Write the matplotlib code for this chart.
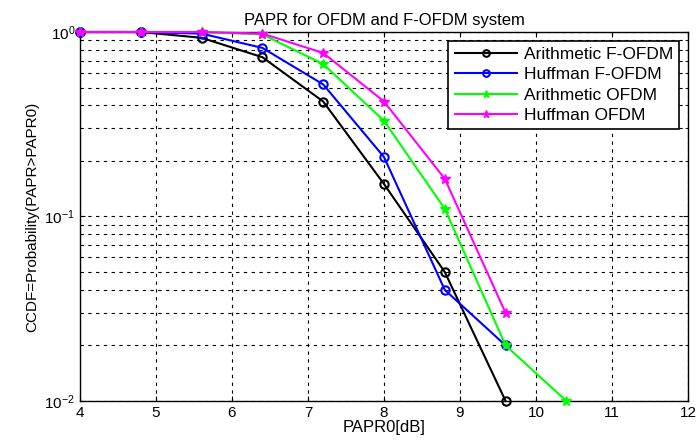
import matplotlib
matplotlib.use('Agg')
import matplotlib.pyplot as plt
import numpy as np

plt.rcParams['font.family'] = ['Liberation Sans', 'DejaVu Sans']

# PAPR0 值 (dB)
papr0 = [4, 4.8, 5.6, 6.4, 7.2, 8, 8.8, 9.6, 10.4]

# CCDF 曲线
arith_fofdm = [1, 1, 0.93, 0.73, 0.42, 0.15, 0.05, 0.01]
huff_fofdm = [1, 1, 0.98, 0.82, 0.52, 0.21, 0.04, 0.02]
arith_ofdm = [1, 1, 1, 0.97, 0.67, 0.33, 0.11, 0.02, 0.01]
huff_ofdm = [1, 1, 1, 0.98, 0.77, 0.42, 0.16, 0.03]

fig = plt.figure(figsize=(6.98, 4.44), dpi=100)
ax = fig.add_axes([80/698, 1-401/444, 608/698, 369/444])

ax.plot(papr0[:len(arith_fofdm)], arith_fofdm, color='black', marker='o',
        mfc='none', ms=6, mew=1.5, lw=1.5, label='Arithmetic F-OFDM', clip_on=False, zorder=5)
ax.plot(papr0[:len(huff_fofdm)], huff_fofdm, color='blue', marker='o',
        mfc='none', ms=6, mew=1.5, lw=1.5, label='Huffman F-OFDM', clip_on=False, zorder=5)
ax.plot(papr0[:len(arith_ofdm)], arith_ofdm, color='#00ff00', marker='*',
        ms=7, lw=1.5, label='Arithmetic OFDM', clip_on=False, zorder=5)
ax.plot(papr0[:len(huff_ofdm)], huff_ofdm, color='magenta', marker='*',
        ms=7, lw=1.5, label='Huffman OFDM', clip_on=False, zorder=5)

ax.set_yscale('log')
ax.set_xlim(4, 12)
ax.set_ylim(1e-2, 1)
ax.set_xticks(np.arange(4, 13, 1))
ax.grid(True, which='major', color='black', linestyle=(0, (3, 4)), lw=0.8)
ax.grid(True, which='minor', axis='y', color='black', linestyle=(0, (3, 4)), lw=0.8)
ax.tick_params(which='both', direction='in', top=True, right=True, labelsize=11)
for s in ax.spines.values():
    s.set_linewidth(1.0)

ax.set_title('PAPR for OFDM and F-OFDM system', fontsize=12, pad=5)
ax.set_xlabel('PAPR0[dB]', fontsize=12, labelpad=0)
ax.set_ylabel('CCDF=Probability(PAPR>PAPR0)', fontsize=11)

leg = ax.legend(loc='upper right', fontsize=12.5, fancybox=False, edgecolor='black',
                framealpha=1, borderaxespad=0.5, handlelength=3.6, handletextpad=0.4,
                labelspacing=0.3, borderpad=0.35, markerscale=0.8)
leg.get_frame().set_linewidth(1.2)

fig.savefig('out.png', dpi=100)
